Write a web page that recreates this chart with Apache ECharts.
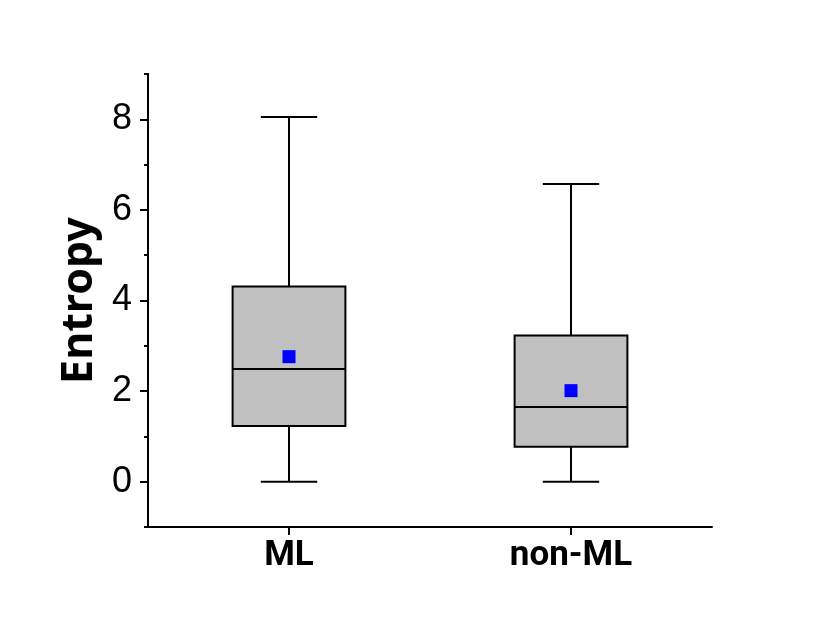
<!DOCTYPE html>
<html>
<head>
<meta charset="utf-8">
<script src="https://cdn.jsdelivr.net/npm/echarts@6/dist/echarts.min.js"></script>
<style>html,body{margin:0;padding:0;background:#fff;}#c{width:826px;height:633px;}</style>
</head>
<body>
<div id="c"></div>
<script>
const categories = ['ML', 'non-ML'];
const whiskerLow = [0, 0];
const q1 = [1.23, 0.77];
const median = [2.49, 1.65];
const q3 = [4.31, 3.23];
const whiskerHigh = [8.05, 6.57];
const means = [2.76, 2.01];
const majorTicks = [0, 2, 4, 6, 8];
const minorTicks = [-1, 1, 3, 5, 7, 9];

const boxData = categories.map((c, i) => [i, whiskerLow[i], q1[i], median[i], q3[i], whiskerHigh[i]]);
const meanData = categories.map((c, i) => [i, means[i]]);

const chart = echarts.init(document.getElementById('c'));
function ls() { return { stroke: '#000', lineWidth: 2, fill: null }; }

chart.setOption({
  animation: false,
  backgroundColor: '#fff',
  grid: { left: 148, right: 114, top: 74, bottom: 106 },
  xAxis: {
    type: 'category',
    data: categories,
    boundaryGap: true,
    axisLine: { show: true, onZero: false, lineStyle: { color: '#000', width: 2 } },
    axisTick: { show: true, interval: 0, alignWithLabel: true, inside: false, length: 8, lineStyle: { color: '#000', width: 2 } },
    axisLabel: { color: '#000', fontSize: 35, fontWeight: 'bold', fontFamily: 'Roboto', margin: 12 },
    splitLine: { show: false }
  },
  yAxis: [{
    type: 'value',
    min: -1, max: 9, interval: 1,
    name: 'Entropy',
    nameLocation: 'middle',
    nameRotate: 90,
    nameGap: 46,
    nameTextStyle: { color: '#000', fontSize: 43, fontWeight: 'bold', fontFamily: 'Noto Sans' },
    axisLine: { show: true, onZero: false, lineStyle: { color: '#000', width: 2 } },
    axisTick: { show: true, length: 8, customValues: majorTicks, lineStyle: { color: '#000', width: 2 } },
    axisLabel: { color: '#000', fontSize: 36, fontFamily: 'Liberation Sans', margin: 16, customValues: majorTicks },
    splitLine: { show: false }
  }, {
    type: 'value',
    position: 'left',
    min: -1, max: 9, interval: 1,
    axisLine: { show: true, onZero: false, lineStyle: { color: '#000', width: 2 } },
    axisTick: { show: true, length: 4, customValues: minorTicks, lineStyle: { color: '#000', width: 2 } },
    axisLabel: { show: false },
    splitLine: { show: false }
  }],
  series: [{
    type: 'custom',
    data: boxData,
    encode: { x: 0, y: [1, 2, 3, 4, 5] },
    renderItem: function (params, api) {
      const idx = api.value(0);
      const band = api.size([1, 0])[0];
      const bw = band * 0.4;
      const cw = band * 0.2;
      const pLow = api.coord([idx, api.value(1)]);
      const pQ1 = api.coord([idx, api.value(2)]);
      const pMed = api.coord([idx, api.value(3)]);
      const pQ3 = api.coord([idx, api.value(4)]);
      const pHigh = api.coord([idx, api.value(5)]);
      const x = pQ1[0];
      return {
        type: 'group',
        children: [
          { type: 'line', shape: { x1: x, y1: pHigh[1], x2: x, y2: pQ3[1] }, style: ls() },
          { type: 'line', shape: { x1: x, y1: pQ1[1], x2: x, y2: pLow[1] }, style: ls() },
          { type: 'line', shape: { x1: x - cw / 2, y1: pHigh[1], x2: x + cw / 2, y2: pHigh[1] }, style: ls() },
          { type: 'line', shape: { x1: x - cw / 2, y1: pLow[1], x2: x + cw / 2, y2: pLow[1] }, style: ls() },
          { type: 'rect', shape: { x: x - bw / 2, y: pQ3[1], width: bw, height: pQ1[1] - pQ3[1] },
            style: { fill: '#c0c0c0', stroke: '#000', lineWidth: 2 } },
          { type: 'line', shape: { x1: x - bw / 2, y1: pMed[1], x2: x + bw / 2, y2: pMed[1] }, style: ls() }
        ]
      };
    }
  }, {
    type: 'scatter',
    data: meanData,
    symbol: 'rect',
    symbolSize: 13,
    itemStyle: { color: '#0000ff', opacity: 1 },
    z: 5
  }]
});
</script>
</body>
</html>
